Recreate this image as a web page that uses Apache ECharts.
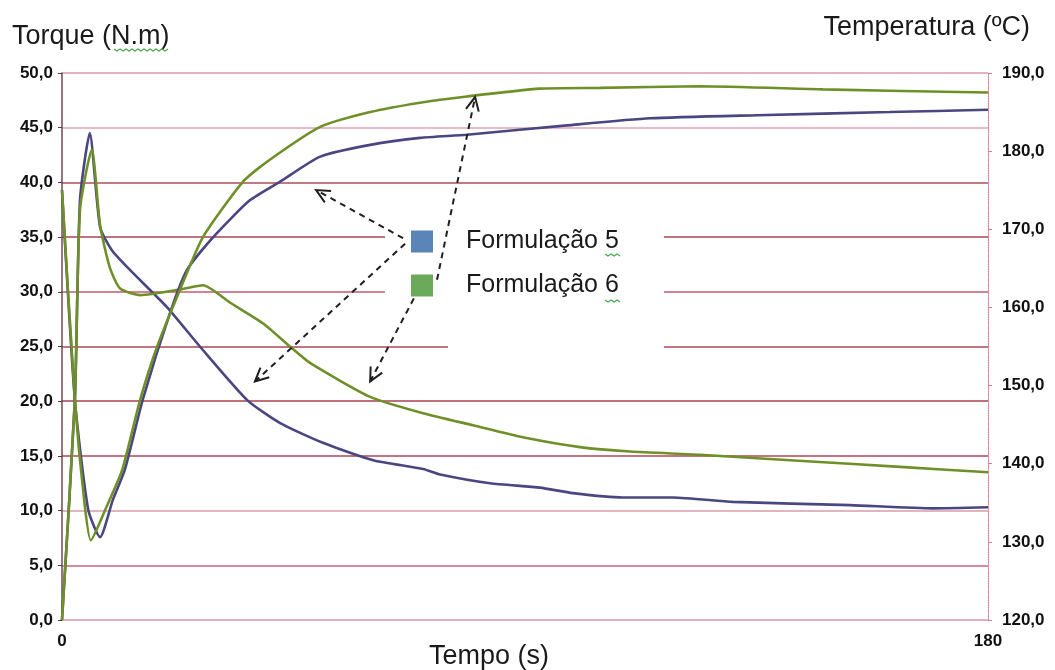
<!DOCTYPE html>
<html>
<head>
<meta charset="utf-8">
<script src="https://cdn.jsdelivr.net/npm/echarts@6/dist/echarts.min.js"></script>
<style>
  html, body { margin: 0; padding: 0; background: #ffffff; }
  #chart { width: 1055px; height: 670px; }
</style>
</head>
<body>
<div id="chart"></div>
<script>
// Formulação 5 — torque (N.m) vs tempo (s)
const f5TorqueTime = [0, 2.5, 3.5, 5.4, 7.4, 9.7, 13.2, 20.4, 26.8, 36.0, 42.4, 50.7, 60.5, 70.2, 73.5, 83.2, 92.9, 99.3, 109.0, 118.8, 130.4, 153.2, 169.3, 180];
const f5Torque     = [0, 20.1, 38.4, 44.5, 35.9, 33.8, 32.0, 28.6, 25.0, 20.1, 18.0, 16.2, 14.6, 13.8, 13.3, 12.5, 12.1, 11.6, 11.2, 11.2, 10.8, 10.5, 10.2, 10.3];

// Formulação 6 — torque (N.m) vs tempo (s)
const f6TorqueTime = [0, 2.5, 3.5, 5.8, 7.4, 9.3, 11.3, 15.2, 22.9, 27.4, 32.7, 39.1, 44.3, 48.2, 59.9, 70.2, 79.9, 89.6, 100.7, 110.4, 124.0, 141.5, 162.9, 180];
const f6Torque     = [0, 20.1, 37.5, 43.0, 36.1, 32.2, 30.3, 29.7, 30.2, 30.6, 29.0, 27.1, 25.0, 23.5, 20.4, 18.9, 17.8, 16.7, 15.8, 15.4, 15.1, 14.6, 14.0, 13.5];

// Formulação 5 — temperatura (ºC) vs tempo (s)
const f5TempTime = [0, 2.5, 5.1, 7.4, 9.9, 12.2, 15.7, 21.0, 24.3, 29.4, 36.5, 42.4, 50.2, 59.9, 69.6, 78.7, 98.2, 114.3, 135.1, 160.9, 180];
const f5Temp     = [175.0, 148.2, 134.1, 130.6, 135.4, 139.2, 148.2, 159.3, 164.8, 169.0, 173.7, 176.1, 179.3, 180.8, 181.7, 182.1, 183.3, 184.2, 184.6, 185.0, 185.3];

// Formulação 6 — temperatura (ºC) vs tempo (s)
const f6TempTime = [0, 2.5, 4.3, 5.6, 8.4, 11.7, 15.2, 18.5, 22.9, 27.4, 35.2, 40.4, 50.2, 59.9, 69.6, 78.7, 92.9, 104.6, 124.0, 147.9, 180];
const f6Temp     = [175.0, 148.2, 135.4, 130.2, 134.1, 139.2, 148.2, 155.0, 162.2, 169.0, 176.1, 178.9, 183.1, 185.0, 186.2, 187.0, 188.0, 188.1, 188.3, 187.9, 187.5];

const seriesNames = ['Formulação 5', 'Formulação 6'];

// Callout arrows from the legend keys to the curves, in (tempo, torque) units
const calloutFrom = [[66.3, 34.9], [66.7, 34.4], [68.4, 29.4], [72.9, 31.1]];
const calloutTo   = [[49.4, 39.3], [37.5, 21.8], [59.9, 21.8], [80.3, 47.8]];

const zip = (xs, ys) => xs.map((x, i) => [x, ys[i]]);
const fmt = v => v.toFixed(1).replace('.', ',');

const FONT = '"Liberation Sans", Arial, sans-serif';
const C5 = '#4a4682';
const C6 = '#6f9028';

// grid line tints, one per torque tick from 0 to 50
const gridTints = [
  'rgba(210,120,150,0.8)', 'rgba(190,70,96,0.85)', 'rgba(206,120,140,0.75)',
  'rgba(168,48,68,0.9)', 'rgba(160,44,60,0.9)', 'rgba(166,50,68,0.9)',
  'rgba(180,64,86,0.85)', 'rgba(160,44,66,0.9)', 'rgba(166,58,68,0.9)',
  'rgba(214,136,156,0.75)', 'rgba(206,120,150,0.75)'
];

const chart = echarts.init(document.getElementById('chart'), null, { renderer: 'canvas' });

const titleStyle = { fontSize: 27, fontWeight: 'normal', color: '#1a1a1a', fontFamily: FONT };

const option = {
  backgroundColor: '#ffffff',
  animation: false,
  textStyle: { fontFamily: FONT },
  title: [
    { text: 'Torque (N.m)', left: 7, top: 18, textStyle: titleStyle },
    { text: 'Temperatura (ºC)', right: 20, top: 9, textStyle: titleStyle },
    { text: 'Tempo (s)', left: 424, top: 638, textStyle: titleStyle }
  ],
  grid: { left: 62, right: 67, top: 73, bottom: 50 },
  legend: {
    orient: 'vertical',
    left: 406,
    top: 224,
    itemWidth: 22,
    itemHeight: 22,
    itemGap: 19,
    icon: 'rect',
    selectedMode: false,
    data: [
      { name: seriesNames[0], itemStyle: { color: '#5b84b8' } },
      { name: seriesNames[1], itemStyle: { color: '#6aaa5a' } }
    ],
    textStyle: { fontSize: 25, color: '#1a1a1a', fontFamily: FONT, padding: [0, 0, 0, 28] },
    z: 6
  },
  xAxis: {
    type: 'value',
    min: 0,
    max: 180,
    interval: 180,
    axisLine: { show: false },
    axisTick: { show: false },
    splitLine: { show: false },
    axisLabel: { fontSize: 17, fontWeight: 'bold', color: '#111', margin: 13, fontFamily: FONT }
  },
  yAxis: [
    {
      type: 'value',
      min: 0,
      max: 50,
      interval: 5,
      position: 'left',
      axisLine: { show: true, lineStyle: { color: '#6e4a52', width: 1.5 } },
      axisTick: { show: true, length: 4, lineStyle: { color: '#5a3a40' } },
      axisLabel: { formatter: fmt, fontSize: 17, fontWeight: 'bold', color: '#111', margin: 9, fontFamily: FONT },
      splitLine: { show: true, lineStyle: { color: gridTints, width: 1.7 } }
    },
    {
      type: 'value',
      min: 120,
      max: 190,
      interval: 10,
      position: 'right',
      axisLine: { show: true, lineStyle: { color: '#d48a9e', width: 1.2, type: 'dotted' } },
      axisTick: { show: true, length: 4, lineStyle: { color: '#d07aa0' } },
      axisLabel: { formatter: fmt, fontSize: 17, fontWeight: 'bold', color: '#111', margin: 14, fontFamily: FONT },
      splitLine: { show: false }
    }
  ],
  series: [
    {
      name: seriesNames[0], type: 'line', yAxisIndex: 0, data: zip(f5TorqueTime, f5Torque),
      showSymbol: false, smooth: 0.2, lineStyle: { color: C5, width: 2.6 }, itemStyle: { color: C5 }
    },
    {
      name: seriesNames[1], type: 'line', yAxisIndex: 0, data: zip(f6TorqueTime, f6Torque),
      showSymbol: false, smooth: 0.2, lineStyle: { color: C6, width: 2.6 }, itemStyle: { color: C6 }
    },
    {
      name: seriesNames[0], type: 'line', yAxisIndex: 1, data: zip(f5TempTime, f5Temp),
      showSymbol: false, smooth: 0.2, lineStyle: { color: C5, width: 2.6 }, itemStyle: { color: C5 }
    },
    {
      name: seriesNames[1], type: 'line', yAxisIndex: 1, data: zip(f6TempTime, f6Temp),
      showSymbol: false, smooth: 0.2, lineStyle: { color: C6, width: 2.6 }, itemStyle: { color: C6 }
    }
  ]
};

chart.setOption(option);

// Masks behind the legend and dashed callout arrows, placed in pixel space
const toPx = p => chart.convertToPixel({ xAxisIndex: 0, yAxisIndex: 0 }, p);
const elements = [
  { type: 'rect', shape: { x: 385, y: 212, width: 279, height: 110 }, style: { fill: '#ffffff' }, z: 1, silent: true },
  { type: 'rect', shape: { x: 448, y: 322, width: 216, height: 30 }, style: { fill: '#ffffff' }, z: 1, silent: true }
];
calloutFrom.forEach((from, i) => {
  const a = toPx(from);
  const b = toPx(calloutTo[i]);
  elements.push({
    type: 'line', z: 8, silent: true,
    shape: { x1: a[0], y1: a[1], x2: b[0], y2: b[1] },
    style: { stroke: '#1f1f1f', lineWidth: 2, lineDash: [6, 5] }
  });
  const ang = Math.atan2(a[1] - b[1], a[0] - b[0]);
  const len = 15, spread = 0.45;
  elements.push({
    type: 'polyline', z: 8, silent: true,
    shape: { points: [
      [b[0] + len * Math.cos(ang + spread), b[1] + len * Math.sin(ang + spread)],
      [b[0], b[1]],
      [b[0] + len * Math.cos(ang - spread), b[1] + len * Math.sin(ang - spread)]
    ] },
    style: { stroke: '#1f1f1f', lineWidth: 2, fill: null }
  });
});
// spell-check squiggles under the short tokens
const squiggle = (x0, y0, w) => {
  const pts = [];
  for (let k = 0; k <= w / 3; k++) pts.push([x0 + k * 3, y0 + (k % 2 ? 2 : 0)]);
  return { type: 'polyline', z: 9, silent: true, shape: { points: pts }, style: { stroke: '#4aa84a', lineWidth: 1.2, fill: null } };
};
elements.push(squiggle(114, 49, 54));
elements.push(squiggle(605, 254, 15));
elements.push(squiggle(605, 300, 15));

chart.setOption({ graphic: { elements } });
</script>
</body>
</html>
